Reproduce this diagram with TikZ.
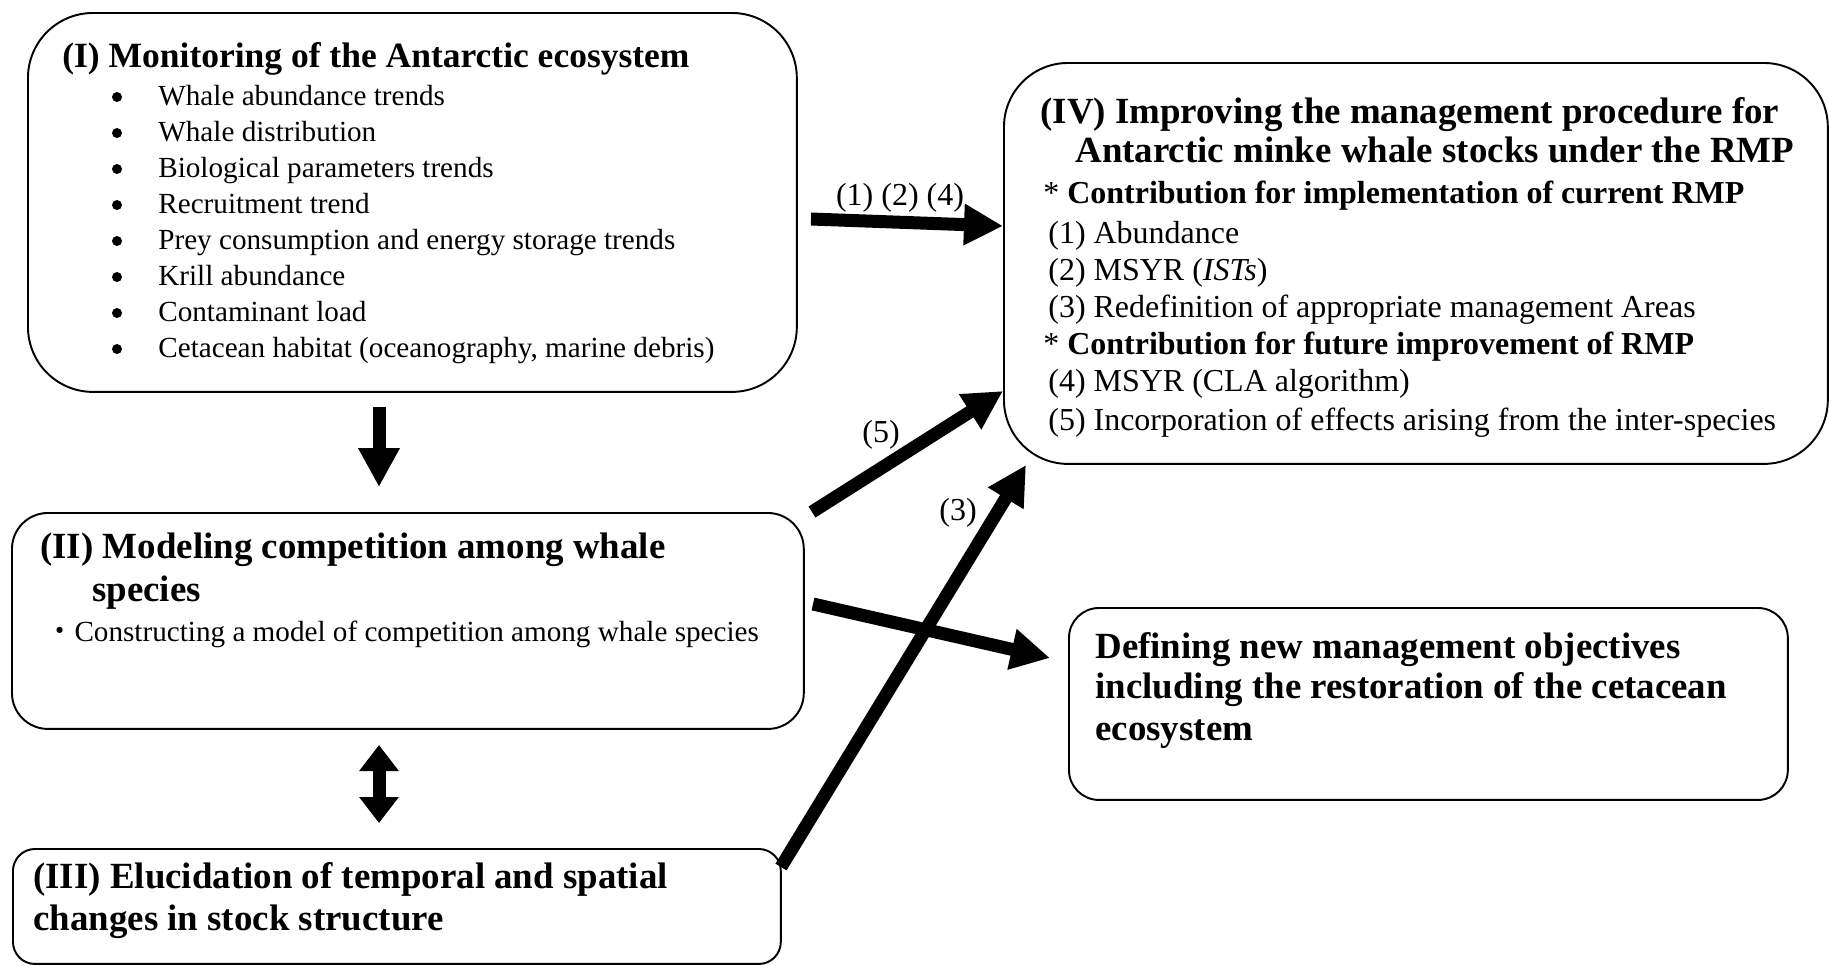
\documentclass[tikz,border=0pt]{standalone}
\usepackage{fontspec}
\setmainfont{Liberation Serif}
\newfontfamily\jpfont{Noto Sans CJK JP}
\usetikzlibrary{arrows.meta}

\newcommand\hdfont{\fontsize{21}{25}\selectfont\bfseries}
\newcommand\itmfont{\fontsize{16.6}{20}\selectfont}
\newcommand\rmpfont{\fontsize{18.2}{21}\selectfont}

\tikzset{
  box/.style={draw, line width=1.1pt, anchor=north west, inner sep=0pt},
  hd/.style={anchor=base west, inner sep=0pt, font=\hdfont},
  itm/.style={anchor=base west, inner sep=0pt, font=\itmfont},
  rmp/.style={anchor=base west, inner sep=0pt, font=\rmpfont},
  lbl/.style={anchor=base, inner sep=0pt, font=\rmpfont},
  blk/.style={line width=0.26cm}
}

\begin{document}
\begin{tikzpicture}[>={Triangle[length=0.78cm,width=0.78cm]}, x=0.02cm, y=0.02cm]
  \useasboundingbox (0,0) rectangle (1829,-965);

  % boxes
  \node[box, minimum width=15.38cm, minimum height=7.58cm, rounded corners=1.3cm] (mon) at (27,-12) {};
  \node[box, minimum width=15.84cm, minimum height=4.32cm, rounded corners=0.72cm] (model) at (11,-512) {};
  \node[box, minimum width=15.36cm, minimum height=2.30cm, rounded corners=0.44cm] (stock) at (12,-848) {};
  \node[box, minimum width=16.48cm, minimum height=8.02cm, rounded corners=1.28cm] (rmp) at (1003,-62) {};
  \node[box, minimum width=14.38cm, minimum height=3.84cm, rounded corners=0.6cm] (obj) at (1068,-607) {};

  % (I)
  \node[hd, font=\fontsize{20.2}{24}\selectfont\bfseries] (monhd) at (62,-67) {(I) Monitoring of the Antarctic ecosystem};
  \node[itm] (mon1) at (158,-105) {Whale abundance trends};
  \node[itm] (mon2) at (158,-141) {Whale distribution};
  \node[itm] (mon3) at (158,-177) {Biological parameters trends};
  \node[itm] (mon4) at (158,-213) {Recruitment trend};
  \node[itm] (mon5) at (158,-249) {Prey consumption and energy storage trends};
  \node[itm] (mon6) at (158,-285) {Krill abundance};
  \node[itm] (mon7) at (158,-321) {Contaminant load};
  \node[itm] (mon8) at (158,-357) {Cetacean habitat (oceanography, marine debris)};
  \fill (117,-97) circle[radius=5];
  \fill (117,-133) circle[radius=5];
  \fill (117,-169) circle[radius=5];
  \fill (117,-205) circle[radius=5];
  \fill (117,-241) circle[radius=5];
  \fill (117,-277) circle[radius=5];
  \fill (117,-313) circle[radius=5];
  \fill (117,-349) circle[radius=5];

  % (II)
  \node[hd] (modelhd) at (40,-558) {(II) Modeling competition among whale};
  \node[hd] (modelhdb) at (92,-601) {species};
  \node[itm] (model1) at (45,-641) {{\jpfont ・}Constructing a model of competition among whale species};

  % (III)
  \node[hd] (stockhd) at (33,-888) {(III) Elucidation of temporal and spatial};
  \node[hd] (stockhdb) at (33,-930) {changes in stock structure};

  % (IV)
  \node[hd] (rmphd) at (1040,-123) {(IV) Improving the management procedure for};
  \node[hd] (rmphdb) at (1075,-162) {Antarctic minke whale stocks under the RMP};
  \node[rmp] (rmpc) at (1043,-203) {* \textbf{Contribution for implementation of current RMP}};
  \node[rmp] (rmp1) at (1048,-243) {(1) Abundance};
  \node[rmp] (rmp2) at (1048,-280) {(2) MSYR (\textit{ISTs})};
  \node[rmp] (rmp3) at (1048,-317) {(3) Redefinition of appropriate management Areas};
  \node[rmp] (rmpf) at (1043,-354) {* \textbf{Contribution for future improvement of RMP}};
  \node[rmp] (rmp4) at (1048,-391) {(4) MSYR (CLA algorithm)};
  \node[rmp] (rmp5) at (1048,-430) {(5) Incorporation of effects arising from the inter-species};

  % objectives
  \node[hd] (objhd) at (1095,-658) {Defining new management objectives};
  \node[hd] (objhdb) at (1095,-698) {including the restoration of the cetacean};
  \node[hd] (objhdc) at (1095,-740) {ecosystem};

  % arrows
  \coordinate (a1s) at (379,-407);
  \coordinate (a1e) at (379,-487);
  \coordinate (a2s) at (379,-745);
  \coordinate (a2e) at (379,-823);
  \coordinate (a3s) at (811,-219);
  \coordinate (a3e) at (1003,-226);
  \coordinate (a4s) at (812,-512);
  \coordinate (a4e) at (1003,-391);
  \coordinate (a5s) at (781,-867);
  \coordinate (a5e) at (1026,-465);
  \coordinate (a6s) at (813,-604);
  \coordinate (a6e) at (1050,-658);
  \draw[blk, ->] (a1s) -- (a1e);
  \draw[blk, {Triangle[length=0.52cm,width=0.76cm]}-{Triangle[length=0.52cm,width=0.76cm]}] (a2s) -- (a2e);
  \draw[blk, ->] (a3s) -- (a3e);
  \draw[blk, ->] (a4s) -- (a4e);
  \draw[blk, ->] (a5s) -- (a5e);
  \draw[blk, ->] (a6s) -- (a6e);

  \node[lbl] (l124) at (900,-205) {(1) (2) (4)};
  \node[lbl] (l5) at (881,-442) {(5)};
  \node[lbl] (l3) at (958,-520) {(3)};
\end{tikzpicture}
\end{document}
